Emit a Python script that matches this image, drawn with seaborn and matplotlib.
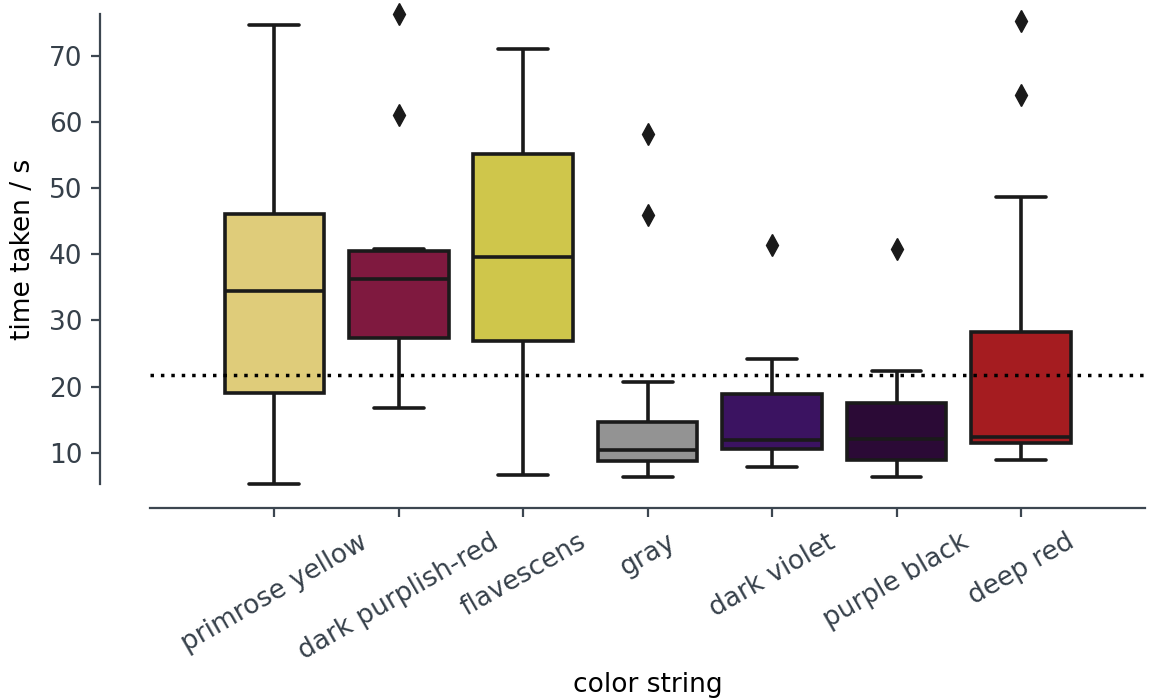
import numpy as np
import pandas as pd
import matplotlib
matplotlib.use("Agg")
import matplotlib.pyplot as plt
import seaborn as sns

# Colour names shown to participants, in plotting order
color_names = ["primrose yellow", "dark purplish-red", "flavescens", "gray",
               "dark violet", "purple black", "deep red"]

# Box fill for each colour name
box_colors = ["#dfcc7a", "#7f193f", "#cfc64b", "#939393",
              "#3b1361", "#2b0a36", "#a51c20"]

# Time taken (s) to identify each colour
primrose_yellow = [5.3, 12.4, 16.8, 19.0, 24.6, 30.2, 34.5, 37.9, 42.3, 46.1, 52.8, 63.5, 74.7]
dark_purplish_red = [16.8, 21.5, 25.2, 27.4, 30.6, 34.1, 36.3, 37.8, 39.5, 40.5, 40.8, 61.1, 76.3]
flavescens = [6.7, 14.2, 21.5, 26.9, 31.8, 35.3, 39.6, 44.1, 50.2, 55.2, 60.3, 66.4, 71.0]
gray = [6.3, 7.4, 8.1, 8.85, 9.3, 9.9, 10.45, 11.2, 12.9, 14.6, 20.7, 46.0, 58.1]
dark_violet = [7.85, 9.1, 9.9, 10.55, 11.2, 11.6, 11.9, 13.4, 16.2, 18.9, 21.7, 24.2, 41.4]
purple_black = [6.4, 7.5, 8.2, 8.9, 10.1, 11.3, 12.15, 13.6, 15.8, 17.6, 19.4, 22.3, 40.8]
deep_red = [8.9, 10.2, 11.1, 11.55, 11.8, 12.1, 12.35, 15.7, 21.4, 28.2, 48.7, 64.1, 75.2]

# Reference time drawn as a dotted line
reference_time = 21.7

series = [primrose_yellow, dark_purplish_red, flavescens, gray,
          dark_violet, purple_black, deep_red]
df = pd.DataFrame({
    "color string": np.repeat(color_names, [len(s) for s in series]),
    "time taken / s": np.concatenate(series),
})

sns.set_style("ticks")
plt.rcParams["font.family"] = ["DejaVu Sans"]

spine_color = "#3c4650"
tick_label_color = "#36404a"
line_color = "#1a1a1a"

W, H = 1149, 700
fig = plt.figure(figsize=(W / 100, H / 100), dpi=100)
ax = fig.add_axes([149.85 / W, (H - 507.5) / H, 995.6 / W, 517 / H])

sns.boxplot(
    data=df, x="color string", y="time taken / s",
    hue="color string", palette=box_colors, legend=False,
    saturation=1, width=0.8, linewidth=2.6, linecolor=line_color,
    fliersize=11,
    flierprops=dict(marker="d", markerfacecolor=line_color,
                    markeredgecolor=line_color, markeredgewidth=1),
    ax=ax,
)

ax.axhline(reference_time, color="black", lw=2.5, ls=(0, (1, 2)), zorder=5)

ax.set_xlim(-1, 7)

for side in ("top", "right"):
    ax.spines[side].set_visible(False)
ax.spines["left"].set_position(("outward", 36))
ax.spines["left"].set_bounds(df["time taken / s"].min(), df["time taken / s"].max())
for side in ("left", "bottom"):
    ax.spines[side].set_color(spine_color)
    ax.spines[side].set_linewidth(1.6)

ax.set_yticks([10, 20, 30, 40, 50, 60, 70])
ax.tick_params(axis="both", length=6.5, width=1.6, color=spine_color,
               labelcolor=tick_label_color, labelsize=19, pad=6)
ax.tick_params(axis="x", labelrotation=30, pad=9)

ax.set_xlabel("color string", fontsize=19, color="black", labelpad=5)
ax.set_ylabel("time taken / s", fontsize=19, color="black", labelpad=9)

fig.savefig("out.png", dpi=100)
